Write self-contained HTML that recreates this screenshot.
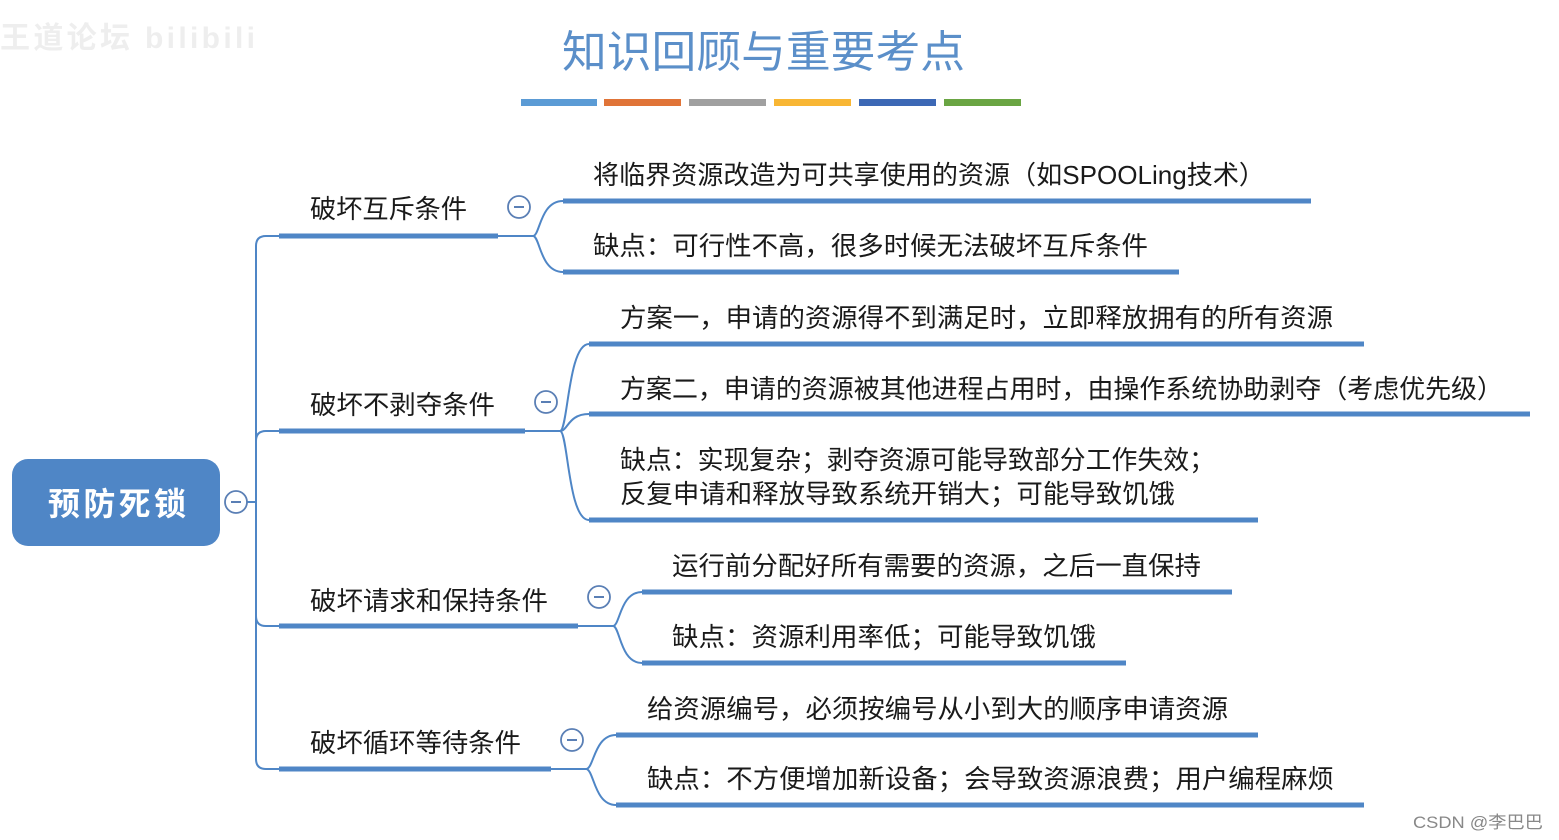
<!DOCTYPE html>
<html><head><meta charset="utf-8"><style>
html,body{margin:0;padding:0;background:#fff;width:1559px;height:840px;overflow:hidden}
svg text{font-family:"Liberation Sans","Noto Sans CJK SC",sans-serif}
</style></head><body>
<svg width="1559" height="840" viewBox="0 0 1559 840" xmlns="http://www.w3.org/2000/svg">
<text x="0" y="48" font-size="30" fill="#eeeeee" font-weight="bold" textLength="255">王道论坛 bilibili</text>
<text x="562" y="67" font-size="44" fill="#5b8fc9" textLength="403" lengthAdjust="spacingAndGlyphs">知识回顾与重要考点</text>
<g>
<rect x="521" y="99" width="76" height="7" fill="#5b9bd5"/>
<rect x="604" y="99" width="77" height="7" fill="#e07438"/>
<rect x="689" y="99" width="77" height="7" fill="#a0a0a0"/>
<rect x="774" y="99" width="77" height="7" fill="#f8b634"/>
<rect x="859" y="99" width="77" height="7" fill="#3c68b5"/>
<rect x="944" y="99" width="77" height="7" fill="#6aa543"/>
</g>
<g stroke="#4f86c6" fill="none" stroke-width="2">
<line x1="247" y1="502" x2="256" y2="502"/>
<path d="M256,760 V246 Q256,236 266,236 H279"/>
<path d="M256,441 Q256,431 266,431 H279"/>
<path d="M256,616 Q256,626 266,626 H279"/>
<path d="M256,759 Q256,769 266,769 H279"/>
<path d="M498,236 H533"/>
<path d="M533,236 C540,236 540,201 563,201"/>
<path d="M533,236 C540,236 540,272 563,272"/>
<path d="M525,431 H560"/>
<path d="M560,431 C568,431 568,344 589,344"/>
<path d="M560,431 C568,431 568,414 589,414"/>
<path d="M560,431 C568,431 568,520 589,520"/>
<path d="M578,626 H613"/>
<path d="M613,626 C620,626 620,592 642,592"/>
<path d="M613,626 C620,626 620,663 642,663"/>
<path d="M551,769 H586"/>
<path d="M586,769 C594,769 594,735 616,735"/>
<path d="M586,769 C594,769 594,805 616,805"/>
</g>
<g stroke="#4f86c6" stroke-width="5">
<line x1="279" y1="236" x2="498" y2="236"/>
<line x1="279" y1="431" x2="525" y2="431"/>
<line x1="279" y1="626" x2="578" y2="626"/>
<line x1="279" y1="769" x2="551" y2="769"/>
<line x1="563" y1="201" x2="1311" y2="201"/>
<line x1="563" y1="272" x2="1179" y2="272"/>
<line x1="589" y1="344" x2="1364" y2="344"/>
<line x1="589" y1="414" x2="1530" y2="414"/>
<line x1="589" y1="520" x2="1258" y2="520"/>
<line x1="642" y1="592" x2="1232" y2="592"/>
<line x1="642" y1="663" x2="1126" y2="663"/>
<line x1="616" y1="735" x2="1258" y2="735"/>
<line x1="616" y1="805" x2="1364" y2="805"/>
</g>
<rect x="12" y="459" width="208" height="87" rx="16" fill="#4f86c6"/>
<text x="48" y="515" font-size="32" font-weight="bold" fill="#fff" textLength="138">预防死锁</text>
<g fill="#fff" stroke="#5a7fb5" stroke-width="1.8">
<circle cx="236" cy="502" r="11"/>
<circle cx="519" cy="207" r="11"/>
<circle cx="546" cy="402" r="11"/>
<circle cx="599" cy="597" r="11"/>
<circle cx="572" cy="740" r="11"/>
</g>
<g stroke="#5a7fb5" stroke-width="2">
<line x1="231" y1="502" x2="241" y2="502"/>
<line x1="514" y1="207" x2="524" y2="207"/>
<line x1="541" y1="402" x2="551" y2="402"/>
<line x1="594" y1="597" x2="604" y2="597"/>
<line x1="567" y1="740" x2="577" y2="740"/>
</g>
<g font-size="26" fill="#1a1a1a" lengthAdjust="spacingAndGlyphs">
<text x="310" y="218" textLength="157" lengthAdjust="spacingAndGlyphs">破坏互斥条件</text>
<text x="310" y="414" textLength="185" lengthAdjust="spacingAndGlyphs">破坏不剥夺条件</text>
<text x="310" y="610" textLength="238" lengthAdjust="spacingAndGlyphs">破坏请求和保持条件</text>
<text x="310" y="752" textLength="211" lengthAdjust="spacingAndGlyphs">破坏循环等待条件</text>
</g>
<g font-size="26" fill="#1a1a1a">
<text x="593" y="184" textLength="672" lengthAdjust="spacingAndGlyphs">将临界资源改造为可共享使用的资源（如SPOOLing技术）</text>
<text x="593" y="255" textLength="555" lengthAdjust="spacingAndGlyphs">缺点：可行性不高，很多时候无法破坏互斥条件</text>
<text x="620" y="327" textLength="713" lengthAdjust="spacingAndGlyphs">方案一，申请的资源得不到满足时，立即释放拥有的所有资源</text>
<text x="620" y="398" textLength="883" lengthAdjust="spacingAndGlyphs">方案二，申请的资源被其他进程占用时，由操作系统协助剥夺（考虑优先级）</text>
<text x="620" y="469" textLength="595" lengthAdjust="spacingAndGlyphs">缺点：实现复杂；剥夺资源可能导致部分工作失效；</text>
<text x="620" y="503" textLength="555" lengthAdjust="spacingAndGlyphs">反复申请和释放导致系统开销大；可能导致饥饿</text>
<text x="672" y="575" textLength="529" lengthAdjust="spacingAndGlyphs">运行前分配好所有需要的资源，之后一直保持</text>
<text x="672" y="646" textLength="424" lengthAdjust="spacingAndGlyphs">缺点：资源利用率低；可能导致饥饿</text>
<text x="647" y="718" textLength="581" lengthAdjust="spacingAndGlyphs">给资源编号，必须按编号从小到大的顺序申请资源</text>
<text x="647" y="788" textLength="687" lengthAdjust="spacingAndGlyphs">缺点：不方便增加新设备；会导致资源浪费；用户编程麻烦</text>
</g>
<text x="1413" y="828" font-size="17" fill="#888" textLength="130" lengthAdjust="spacingAndGlyphs">CSDN @李巴巴</text>
</svg>
</body></html>
